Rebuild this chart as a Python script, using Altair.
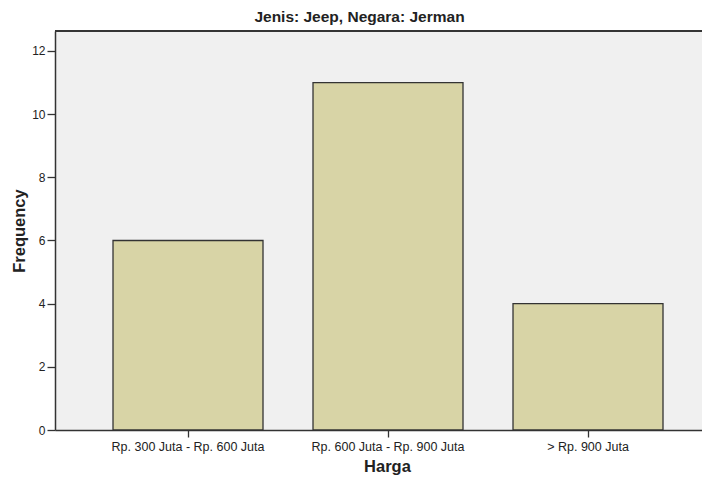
import altair as alt
import pandas as pd

categories = ["Rp. 300 Juta - Rp. 600 Juta", "Rp. 600 Juta - Rp. 900 Juta", "> Rp. 900 Juta"]
frequency = [6, 11, 4]
y_ticks = [0, 2, 4, 6, 8, 10, 12]

df = pd.DataFrame({"Harga": categories, "Frequency": frequency})

FONT = "Liberation Sans"

bars = alt.Chart(df).mark_bar(
    color="#d8d4a6", stroke="#333333", strokeWidth=1.3
).encode(
    x=alt.X("Harga:N", sort=categories,
            scale=alt.Scale(paddingInner=0.25, paddingOuter=0.2425, align=0.598),
            axis=alt.Axis(title="Harga", labelAngle=0, labelFontSize=12.5,
                          labelColor="#222222", labelFont=FONT,
                          titleFont=FONT, titleFontSize=16.5, titleFontWeight="bold",
                          titleColor="#222222", titleX=332, titlePadding=6,
                          tickSize=7, tickColor="#333333", tickWidth=1.3,
                          domainColor="#333333", domainWidth=1.5, labelPadding=3,
                          grid=False)),
    y=alt.Y("Frequency:Q",
            scale=alt.Scale(domain=[0, 12.633], nice=False),
            axis=alt.Axis(title="Frequency", values=y_ticks, labelFontSize=12,
                          labelColor="#222222", labelFont=FONT,
                          titleFont=FONT, titleFontSize=16.5, titleFontWeight="bold",
                          titleColor="#222222", titlePadding=4,
                          tickSize=8, tickColor="#333333", tickWidth=1.3,
                          domainColor="#333333", domainWidth=1.5, labelPadding=2,
                          grid=False)),
)

top_border = alt.Chart(df).mark_rule(color="#333333", strokeWidth=1.5).encode(
    y=alt.value(0), x=alt.value(0), x2=alt.value(647)
)

chart = alt.layer(bars, top_border).properties(
    width=647,
    height=399,
    view=alt.ViewBackground(fill="#f0f0f0", stroke=None),
    title=alt.TitleParams("Jenis: Jeep, Negara: Jerman", font=FONT, fontSize=15.5,
                          fontWeight="bold", color="#222222", anchor="middle",
                          dx=-19, offset=5),
    autosize=alt.AutoSizeParams(type="none"),
    padding={"left": 47, "top": 23, "right": 0, "bottom": 45},
).configure(background="white")

chart.save("out.html", embed_options={"renderer": "svg", "actions": False})
